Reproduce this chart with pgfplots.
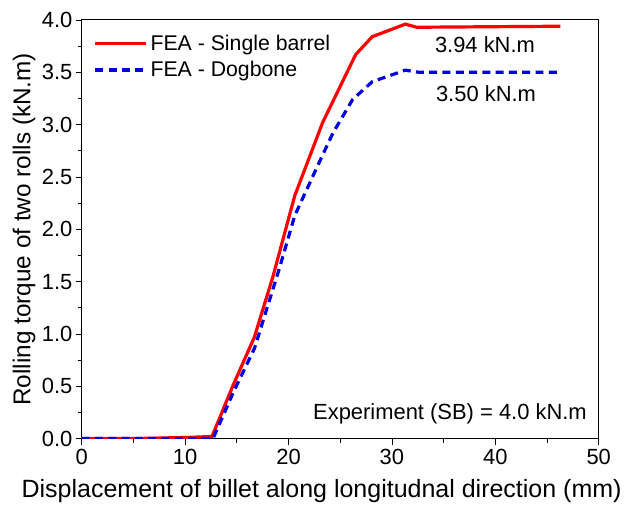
\documentclass[border=0pt]{standalone}
\usepackage{pgfplots}
\pgfplotsset{compat=1.18}
\usepackage{fontspec}
\setmainfont{Liberation Sans}
\begin{document}
\begin{tikzpicture}
\begin{axis}[
  scale only axis,
  width=389pt, height=315pt,
  xmin=0, xmax=50, ymin=0, ymax=4.0,
  xtick={0,10,...,50},
  ytick={0,0.5,...,4.0},
  minor tick num=1,
  tick align=outside,
  xtick pos=bottom, ytick pos=left,
  major tick length=4.5pt, minor tick length=3pt,
  tick style={black, line width=0.6pt},
  axis line style={line width=0.8pt},
  /pgf/number format/assume math mode=true,
  yticklabel style={/pgf/number format/fixed, /pgf/number format/fixed zerofill, /pgf/number format/precision=1, xshift=1pt},
  xticklabel style={/pgf/number format/fixed},
  tick label style={font=\fontsize{16.5}{18}\selectfont},
  xlabel style={font=\fontsize{18.8}{21}\selectfont, yshift=-4pt, xshift=-14pt},
  ylabel style={font=\fontsize{18.3}{21}\selectfont, yshift=-2pt},
  xlabel={Displacement of billet along longitudnal direction (mm)},
  ylabel={Rolling torque of two rolls (kN.m)},
  legend style={at={(0.02,0.975)}, anchor=north west, draw=none, fill=none,
    font=\fontsize{16}{18}\selectfont, row sep=3pt, inner sep=1pt},
  legend cell align=left,
  legend image code/.code={\draw[#1] (0cm,0cm) -- (1.35cm,0cm);},
]
\addplot[color={rgb,255:red,255;green,0;blue,0}, line width=2.4pt] coordinates {
(0,0) (5,0) (10,0.01) (12.6,0.02) (14.6,0.5) (16.7,0.97) (18.5,1.55) (20.6,2.32)
(23.3,3.02) (26.5,3.67) (28.1,3.84) (31.3,3.96) (32.4,3.93) (46.3,3.94)};
\addlegendentry{FEA - Single barrel}
\addplot[color={rgb,255:red,0;green,0;blue,230}, line width=2.4pt, dash pattern=on 6pt off 4pt] coordinates {
(0,0) (5,0) (10,0) (12.7,0.0) (14.7,0.45) (16.7,0.86) (19.1,1.62) (20.6,2.13)
(23.3,2.71) (24.3,2.92) (26.2,3.24) (28.1,3.41) (31.3,3.52) (32.6,3.50) (46.3,3.50)};
\addlegendentry{FEA - Dogbone}
\node[font=\fontsize{16.5}{18}\selectfont] at (axis cs:39.0,3.76) {3.94 kN.m};
\node[font=\fontsize{16.5}{18}\selectfont] at (axis cs:39.1,3.30) {3.50 kN.m};
\node[font=\fontsize{16.5}{18}\selectfont, anchor=east] at (axis cs:49.3,0.24) {Experiment (SB) = 4.0 kN.m};
\end{axis}
\path (current axis.south west) ++(-61.5pt,-55.5pt);
\path (current axis.north east) ++(18.75pt,15pt);
\end{tikzpicture}
\end{document}
